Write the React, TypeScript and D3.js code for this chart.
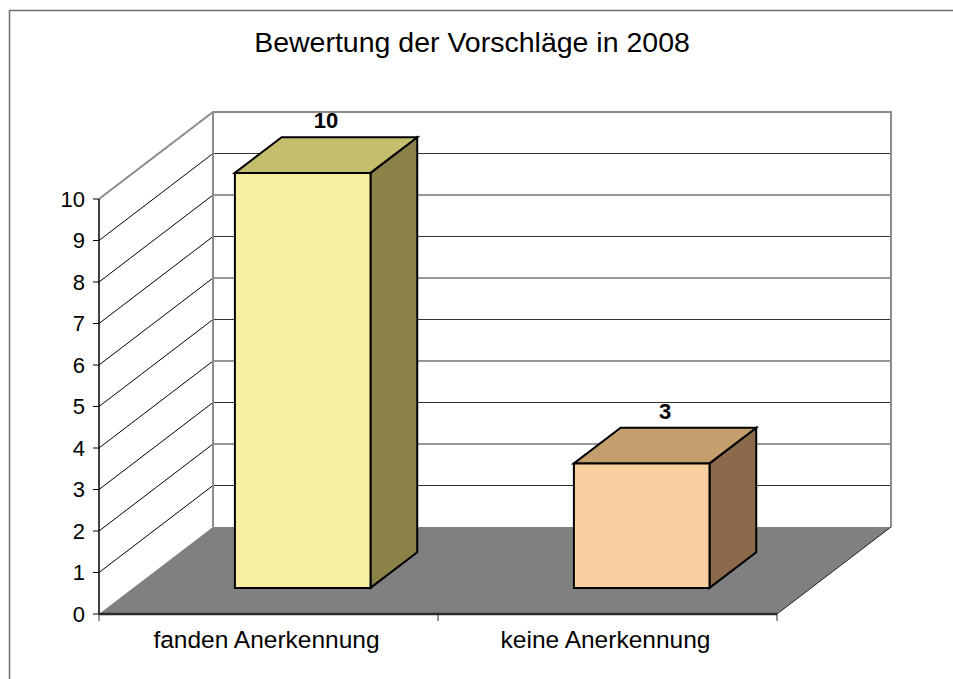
import React from 'react';
import * as d3 from 'd3';

// chart data
const categories = ['fanden Anerkennung', 'keine Anerkennung'];
const values = [10, 3];
const yTicks = [0, 1, 2, 3, 4, 5, 6, 7, 8, 9, 10];
const chartTitle = 'Bewertung der Vorschläge in 2008';

const frontColors = ['#F8F0A0', '#F8D0A0'];
const topColors = ['#C5BE6C', '#C59E6E'];
const sideColors = ['#8A8248', '#8A6A4A'];

const W = 953;
const H = 679;
const FONT = '"Liberation Sans", Arial, sans-serif';

// depth vector of the floor (oblique projection)
const DX = 114;
const DY = -87;
const BAR_D0 = 0.3;
const BAR_D1 = 0.71;

const App = () => {
  const x = d3.scaleBand<string>().domain(categories).range([99, 777]).padding(0);
  const y = d3.scaleLinear().domain([0, 10]).range([614, 199]);

  const proj = (px: number, v: number, d: number): [number, number] => [px + d * DX, y(v) + d * DY];
  const pts = (arr: [number, number][]) => arr.map((p) => p.join(',')).join(' ');

  const x0 = x.range()[0];
  const x1 = x.range()[1];
  const yMax = y.domain()[1];

  const leftWall = pts([proj(x0, 0, 0), proj(x0, yMax, 0), proj(x0, yMax, 1), proj(x0, 0, 1)]);
  const backWall = pts([proj(x0, 0, 1), proj(x0, yMax, 1), proj(x1, yMax, 1), proj(x1, 0, 1)]);
  const floor = pts([proj(x0, 0, 0), proj(x1, 0, 0), proj(x1, 0, 1), proj(x0, 0, 1)]);

  const barW = x.bandwidth() * 0.4;

  return (
    <svg width={W} height={H} style={{ position: 'absolute', left: 0, top: 0 }} fontFamily={FONT}>
      <rect x={0} y={0} width={W} height={H} fill="#fff" />
      <path d={`M9.5,${H + 5}V10.5H${W + 5}`} fill="none" stroke="#6f6f6f" strokeWidth={1.5} />

      <text x={472} y={52} textAnchor="middle" fontSize={28.5} fill="#000">{chartTitle}</text>

      {/* walls */}
      <polygon points={leftWall} fill="#fff" />
      <polygon points={backWall} fill="#fff" />

      {/* gridlines */}
      {yTicks.filter((v) => v > 0 && v < yMax).map((v) => {
        const a = proj(x0, v, 0);
        const b = proj(x0, v, 1);
        const c = proj(x1, v, 1);
        return (
          <g key={v}>
            <line x1={a[0]} y1={a[1]} x2={b[0]} y2={b[1]} stroke="#000" strokeWidth={1} />
            <line x1={b[0]} y1={b[1]} x2={c[0]} y2={c[1]} stroke="#333" strokeWidth={1.2} />
          </g>
        );
      })}

      {/* wall borders */}
      <polyline
        points={pts([proj(x0, yMax, 0), proj(x0, yMax, 1), proj(x1, yMax, 1), proj(x1, 0, 1)])}
        fill="none"
        stroke="#8c8c8c"
        strokeWidth={2}
      />
      <line
        x1={proj(x0, 0, 1)[0]}
        y1={proj(x0, 0, 1)[1]}
        x2={proj(x0, yMax, 1)[0]}
        y2={proj(x0, yMax, 1)[1]}
        stroke="#8c8c8c"
        strokeWidth={2}
      />

      {/* floor */}
      <polygon points={floor} fill="#808080" />
      <line
        x1={proj(x1, 0, 0)[0]}
        y1={proj(x1, 0, 0)[1]}
        x2={proj(x1, 0, 1)[0]}
        y2={proj(x1, 0, 1)[1]}
        stroke="#222"
        strokeWidth={1}
      />

      {/* bars */}
      {categories.map((c, i) => {
        const left = (x(c) as number) + (x.bandwidth() - barW) / 2;
        const right = left + barW;
        const v = values[i];
        const front = [proj(left, 0, BAR_D0), proj(left, v, BAR_D0), proj(right, v, BAR_D0), proj(right, 0, BAR_D0)];
        const top = [proj(left, v, BAR_D0), proj(left, v, BAR_D1), proj(right, v, BAR_D1), proj(right, v, BAR_D0)];
        const side = [proj(right, 0, BAR_D0), proj(right, v, BAR_D0), proj(right, v, BAR_D1), proj(right, 0, BAR_D1)];
        const mid = proj(left + barW / 2, v, (BAR_D0 + BAR_D1) / 2);
        const backTop = proj(left, v, BAR_D1);
        return (
          <g key={c} stroke="#000" strokeWidth={2} strokeLinejoin="miter">
            <polygon points={pts(side)} fill={sideColors[i]} />
            <polygon points={pts(top)} fill={topColors[i]} />
            <polygon points={pts(front)} fill={frontColors[i]} />
            <text
              x={mid[0]}
              y={backTop[1] - 9}
              textAnchor="middle"
              fontSize={22}
              fontWeight="bold"
              stroke="none"
              fill="#000"
            >
              {v}
            </text>
          </g>
        );
      })}

      {/* y axis */}
      <line x1={x0} y1={y(0)} x2={x0} y2={y(yMax)} stroke="#000" strokeWidth={1.5} />
      {yTicks.map((v) => (
        <g key={v}>
          <line x1={x0 - 6} y1={y(v)} x2={x0} y2={y(v)} stroke="#000" strokeWidth={1} />
          <text x={x0 - 14} y={y(v)} dy="0.36em" textAnchor="end" fontSize={22} fill="#000">
            {v}
          </text>
        </g>
      ))}

      {/* x axis */}
      <line x1={x0} y1={y(0)} x2={x1} y2={y(0)} stroke="#2a2a2a" strokeWidth={2.5} />
      {[...categories.map((c) => x(c) as number), x1].map((t, i) => (
        <line key={i} x1={t} y1={y(0)} x2={t} y2={y(0) + 7} stroke="#2a2a2a" strokeWidth={1} />
      ))}
      {categories.map((c) => (
        <text
          key={c}
          x={(x(c) as number) + x.bandwidth() / 2 - 2}
          y={648}
          textAnchor="middle"
          fontSize={24.5}
          fill="#000"
        >
          {c}
        </text>
      ))}
    </svg>
  );
};

export default App;
